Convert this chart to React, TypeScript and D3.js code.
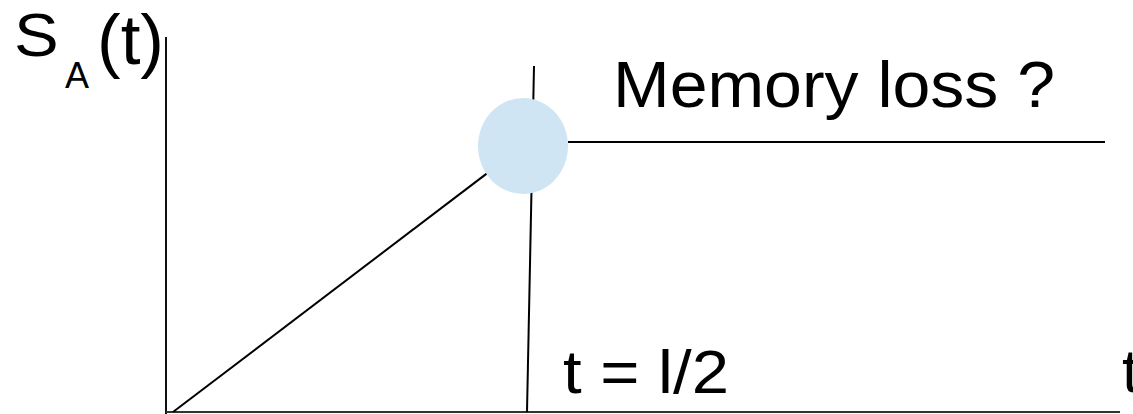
import React from "react";
import * as d3 from "d3";

const W = 1133;
const H = 414;

// data (in chart units)
const xDomain = [0, 954];
const yDomain = [0, 375];
const growth = [
  { t: 7, s: 0 },
  { t: 357, s: 266 },
];
const plateau = [
  { t: 402, s: 270 },
  { t: 939, s: 270 },
];
const halfLine = [
  { t: 368, s: 346 },
  { t: 361, s: 0 },
];
const memoryPoint = { t: 357, s: 266 };
const labels = {
  yLabel: "S",
  ySub: "A",
  yArg: "(t)",
  xLabel: "t",
  half: "t = l/2",
  note: "Memory loss ?",
};

export default function App() {
  const x = d3.scaleLinear().domain(xDomain).range([166, 1120]);
  const y = d3.scaleLinear().domain(yDomain).range([412, 37]);
  const line = d3
    .line<{ t: number; s: number }>()
    .x((d) => x(d.t))
    .y((d) => y(d.s));
  const font = "'Liberation Sans', Arial, sans-serif";
  return (
    <svg
      width={W}
      height={H}
      style={{ position: "absolute", left: 0, top: 0, background: "#fff" }}
    >
      {/* axes */}
      <line x1={x(0)} x2={x(0)} y1={y(yDomain[1])} y2={H} stroke="#111" strokeWidth={2} />
      <line x1={x(0)} x2={x(xDomain[1])} y1={y(0)} y2={y(0)} stroke="#333" strokeWidth={2} />
      <path d={line(growth) || ""} stroke="#000" strokeWidth={2} fill="none" />
      <path d={line(halfLine) || ""} stroke="#000" strokeWidth={2} fill="none" />
      <path d={line(plateau) || ""} stroke="#000" strokeWidth={2} fill="none" />
      <ellipse cx={x(memoryPoint.t)} cy={y(memoryPoint.s)} rx={45} ry={48} fill="#cfe5f3" />
      <g fontFamily={font} fill="#000">
        <text transform="translate(14,56) scale(1.08,1)" fontSize={62}>{labels.yLabel}</text>
        <text x={65} y={88} fontSize={36}>{labels.ySub}</text>
        <text x={97} y={64} fontSize={71}>{labels.yArg}</text>
        <text x={613} y={107} fontSize={64} textLength={442} lengthAdjust="spacingAndGlyphs">{labels.note}</text>
        <text x={563} y={393} fontSize={62} textLength={166} lengthAdjust="spacingAndGlyphs">{labels.half}</text>
        <text x={1122} y={392} fontSize={62}>{labels.xLabel}</text>
      </g>
    </svg>
  );
}
